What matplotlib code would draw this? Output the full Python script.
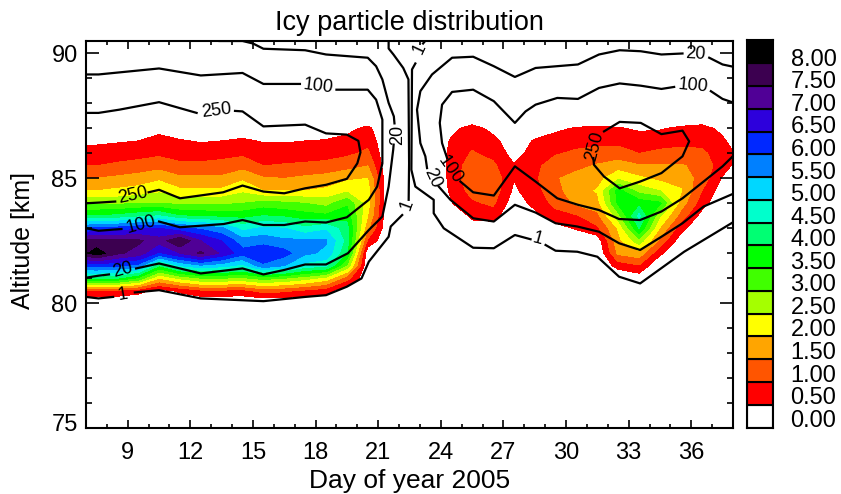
import numpy as np
from matplotlib import pyplot as plt
from matplotlib.transforms import ScaledTranslation

plt.rcParams['font.family'] = ['Liberation Sans', 'DejaVu Sans']

title = 'Icy particle distribution'
xlab = 'Day of year 2005'
ylab = 'Altitude [km]'

# filled field: one profile per day, altitude rows below
altitudes = [80, 80.5, 81, 81.5, 82, 82.5, 83, 83.5, 84, 84.5, 85, 85.5, 86, 86.5, 87, 87.5]
days = [7, 7.5, 8.5, 9.5, 10.5, 11.5, 12.5, 13.5, 14.5, 15.5, 16.5, 17.5, 18.5, 19.5, 20.5, 21.5,
        22.5, 23.5, 24.5, 25.5, 26.5, 27.5, 28.5, 29.5, 30.5, 31.5, 32.5, 33.5, 34.5, 35.5, 36.5, 37.5, 38]
profiles = [
    [0, 1.0, 4.2, 6.1, 7.9, 7.6, 6.0, 4.0, 2.9, 2.0, 1.5, 1.0, 0.7, 0.4, 0, 0],
    [0, 1.0, 4.2, 6.2, 8.3, 7.6, 6.1, 4.0, 2.9, 2.0, 1.5, 1.0, 0.7, 0.4, 0, 0],
    [0, 0.9, 4.0, 6.1, 7.6, 7.6, 6.2, 4.1, 2.9, 2.1, 1.6, 1.1, 0.75, 0.45, 0, 0],
    [0, 0.7, 3.4, 5.8, 7.3, 7.6, 6.4, 4.3, 3.0, 2.2, 1.7, 1.2, 0.8, 0.5, 0, 0],
    [0, 0.3, 2.0, 4.0, 6.4, 7.2, 6.5, 4.5, 3.0, 2.4, 1.9, 1.3, 0.9, 0.7, 0.3, 0],
    [0, 0.6, 2.6, 5.0, 7.0, 8.0, 6.1, 4.0, 2.9, 2.1, 1.6, 1.1, 0.8, 0.55, 0.1, 0],
    [0, 0.9, 3.0, 5.4, 7.6, 7.0, 5.9, 3.9, 2.9, 2.1, 1.6, 1.1, 0.8, 0.45, 0, 0],
    [0, 0.9, 3.0, 5.2, 6.9, 6.5, 5.6, 3.8, 2.9, 2.1, 1.6, 1.15, 0.85, 0.5, 0.1, 0],
    [0, 0.85, 2.9, 4.8, 6.2, 5.7, 4.8, 3.8, 3.0, 2.4, 1.9, 1.3, 0.9, 0.6, 0.1, 0],
    [0, 1.2, 3.2, 5.9, 6.4, 5.8, 5.1, 4.0, 3.2, 2.0, 1.55, 1.0, 0.75, 0.45, 0, 0],
    [0, 1.1, 3.0, 5.5, 6.2, 5.6, 5.0, 3.9, 3.1, 2.0, 1.5, 1.05, 0.75, 0.45, 0, 0],
    [0, 0.9, 2.7, 4.8, 5.6, 5.6, 4.6, 3.7, 3.0, 2.0, 1.6, 1.1, 0.75, 0.5, 0, 0],
    [0, 0.7, 2.3, 4.6, 5.4, 5.55, 4.9, 3.6, 2.8, 2.1, 1.7, 1.15, 0.8, 0.55, 0.05, 0],
    [0, 0.1, 1.2, 2.9, 4.0, 4.3, 4.2, 3.8, 3.4, 2.4, 1.9, 1.3, 0.9, 0.65, 0.35, 0],
    [0, 0, 0, 0, 0.1, 0.9, 1.6, 2.0, 2.2, 2.2, 2.0, 1.5, 1.1, 0.85, 0.62, 0],
    [0, 0, 0, 0, 0, 0, 0, 0, 0, 0, 0, 0, 0, 0, 0, 0],
    [0, 0, 0, 0, 0, 0, 0, 0, 0, 0, 0, 0, 0, 0, 0, 0],
    [0, 0, 0, 0, 0, 0, 0, 0, 0, 0, 0, 0, 0, 0, 0, 0],
    [0, 0, 0, 0, 0, 0, 0, 0.1, 0.47, 0.58, 0.63, 0.66, 0.63, 0.56, 0.35, 0],
    [0, 0, 0, 0, 0, 0, 0.3, 0.6, 0.9, 1.2, 1.4, 1.3, 1.05, 0.85, 0.7, 0],
    [0, 0, 0, 0, 0, 0, 0.25, 0.7, 1.1, 1.3, 1.35, 1.1, 0.85, 0.65, 0.35, 0],
    [0, 0, 0, 0, 0, 0, 0, 0.05, 0.2, 0.4, 0.52, 0.55, 0.3, 0.2, 0.1, 0],
    [0, 0, 0, 0, 0, 0, 0, 0.35, 0.65, 0.8, 0.9, 0.85, 0.7, 0.55, 0.2, 0],
    [0, 0, 0, 0, 0, 0, 0.3, 0.8, 1.15, 1.35, 1.45, 1.3, 0.95, 0.7, 0.4, 0],
    [0, 0, 0, 0, 0, 0.1, 0.55, 0.95, 1.6, 1.75, 1.7, 1.35, 1.1, 0.8, 0.55, 0],
    [0, 0, 0, 0, 0, 0.2, 0.9, 1.35, 1.8, 2.05, 1.8, 1.55, 1.2, 0.85, 0.6, 0],
    [0, 0, 0, 0.7, 1.6, 1.85, 2.05, 2.8, 3.6, 3.7, 2.4, 1.75, 1.2, 0.85, 0.55, 0],
    [0, 0, 0.2, 0.95, 1.8, 2.8, 4.0, 4.65, 3.8, 2.8, 2.1, 1.55, 1.0, 0.75, 0.42, 0],
    [0, 0, 0, 0, 0.6, 1.35, 1.95, 2.55, 3.6, 2.5, 1.85, 1.55, 1.1, 0.8, 0.45, 0],
    [0, 0, 0, 0, 0, 0.2, 0.7, 1.3, 1.75, 2.05, 1.8, 1.55, 1.15, 0.85, 0.6, 0],
    [0, 0, 0, 0, 0, 0, 0, 0.3, 0.75, 1.0, 1.3, 1.35, 1.1, 0.85, 0.7, 0],
    [0, 0, 0, 0, 0, 0, 0, 0, 0, 0.2, 0.45, 0.7, 0.75, 0.6, 0.35, 0],
    [0, 0, 0, 0, 0, 0, 0, 0, 0, 0, 0.1, 0.45, 0.55, 0.3, 0, 0],
]

levels = [0, 0.5, 1, 1.5, 2, 2.5, 3, 3.5, 4, 4.5, 5, 5.5, 6, 6.5, 7, 7.5, 8]
level_labels = ['%.2f' % l for l in levels]
colors = ['#ffffff', '#ff0000', '#ff5500', '#ffa500', '#ffff00', '#a5ff00', '#40ff00', '#00ff00',
          '#00ff73', '#00ffcc', '#00d7ff', '#0080ff', '#0028ff', '#2d00dc', '#500096', '#3c0050', '#000000']

# black contour lines, nan marks the gap under a label
gap = np.nan
c1_left_day = [21.5, 21.5, 21.73, 22.2, 22.45, 22.48, 22.46, gap, 22.15, 21.6, 21.5, 20.55, 20.2, 19.5, 18.5, 17.5, 15.5, 12.5, 10.5, 9.34, gap, 8.3, 7.6, 7]
c1_left_alt = [90.5, 90.2, 89.96, 89.42, 88.96, 85.6, 84.14, gap, 83.53, 83.07, 82.66, 81.66, 80.99, 80.66, 80.32, 80.25, 80.08, 80.19, 80.52, 80.43, gap, 80.25, 80.19, 80.25]
c1_right_day = [23.25, 23.15, gap, 22.78, 22.62, 22.59, 22.78, 23.66, 23.66, 24.14, 25.55, 26.54, 27.55, 28.3, gap, 29.02, 29.5, 30.54, 31.5, 32.54, 33.55, 35.66, 38.06]
c1_right_alt = [90.5, 90.4, gap, 89.6, 89.36, 85.34, 84.67, 84.14, 83.6, 83.0, 82.22, 82.2, 82.73, 82.56, gap, 82.33, 82.1, 82.06, 81.86, 81.06, 80.79, 82.06, 83.27]

c20_left_day = [13.4, 14.5, 15, 15.5, 17.5, 18.5, 20.5, 20.9, 21.2, 21.5, 21.75, 21.78, gap, 21.74, 21.72, 21.5, 21.2, 20.55, 19.55, 18.5, 17.5, 16.5, 15.5, 14.5, 12.5, 10.5, 9.4, gap, 8.1, 7.6, 7]
c20_left_alt = [90.5, 90.5, 90.4, 90.19, 90.13, 89.96, 89.83, 89.49, 88.96, 88.02, 87.48, 87.2, gap, 86.35, 86.15, 84.67, 83.47, 82.93, 82.0, 81.55, 81.55, 81.33, 81.15, 81.39, 81.19, 81.59, 81.39, gap, 81.15, 81.1, 81.02]
c20_right_day = [35.58, 34.57, 33.58, 32.57, 31.58, 30.57, 28.54, 27.55, 26.54, 25.55, 24.54, 23.58, 23.02, 22.86, 23.02, 23.26, 23.34, gap, 23.9, 24.46, 25.55, 26.54, 27.55, 28.54, 29.5, 30.54, 31.58, 32.54, 33.55, 34.57, 35.58, 36.59, 38.06]
c20_right_alt = [90.0, 89.96, 90.09, 90.13, 89.96, 89.56, 89.42, 89.06, 89.49, 89.87, 89.83, 89.16, 88.49, 87.75, 86.41, 85.88, 85.41, gap, 84.67, 84.14, 83.4, 83.27, 83.94, 83.63, 83.2, 83.07, 82.86, 82.4, 82.13, 82.66, 83.2, 83.87, 84.4]
c20_edge_day = [36.86, 37.5, 38.06]
c20_edge_alt = [89.83, 89.56, 89.46]

c100_left_day = [7, 7.6, 10.5, 12.5, 14.5, 15.5, 17.25, gap, 19, 20.5, 20.9, 21.2, 21.2, 20.95, 20.55, 19.5, 18.5, 17.5, 16.5, 15.5, 14.5, 13.6, 11.5, 10.5, gap, 8.7, 7.6, 7]
c100_left_alt = [89.16, 89.16, 89.4, 89.12, 89.22, 88.78, 88.78, gap, 88.55, 88.55, 88.15, 87.35, 85.6, 84.67, 84.14, 83.44, 83.23, 83.27, 83.13, 83.13, 83.33, 83.17, 83.04, 83.27, gap, 82.97, 82.9, 83.0]
c100_right_day = [35.18, 34.57, 33.58, 32.57, 31.58, 30.57, 29.58, 28.54, 28.06, 27.55, 26.54, 25.55, 24.54, 24.06, 23.95, 24.06, 24.3, gap, 24.94, 25.55, 26.54, 27.55, 28.54, 29.58, 30.57, 31.58, 32.54, 33.55, 34.57, 35.58, 36.59, 37.5, 38.06]
c100_right_alt = [88.66, 88.58, 88.71, 88.8, 88.62, 88.18, 88.22, 87.95, 87.68, 87.22, 88.09, 88.55, 88.46, 87.95, 87.22, 86.41, 85.81, gap, 84.87, 84.44, 84.31, 85.48, 84.87, 84.2, 83.94, 83.73, 83.37, 83.33, 83.67, 84.2, 84.87, 85.48, 85.94]
c100_edge_day = [36.94, 37.5, 38.06]
c100_edge_alt = [88.49, 88.18, 88.02]

c250_left_day = [7, 7.6, 8.6, 10.5, 12.3, gap, 14.14, 14.5, 15.5, 17.5, 18.5, 19.5, 20.05, 20.15, 20, 19.5, 18.5, 17.5, 16.5, 15.5, 14.5, 13.57, 12.46, 11.5, 10.5, 10, gap, 8.4, 7.65, 7]
c250_left_alt = [87.62, 87.62, 87.75, 88.05, 87.62, gap, 87.7, 87.68, 87.08, 87.15, 86.8, 86.75, 86.5, 86.04, 85.6, 84.98, 84.74, 84.6, 84.4, 84.47, 84.71, 84.44, 84.31, 84.2, 84.54, 84.44, gap, 84.07, 84.03, 84.0]
c250_right_day = [31.82, 32.57, 33.58, 34.57, 35.58, 35.9, 35.58, 34.57, 33.55, 32.57, 31.82, 31.34, 31.31]
c250_right_alt = [86.88, 87.26, 87.22, 86.77, 86.91, 86.48, 85.88, 85.21, 84.87, 84.6, 85.07, 85.54, 85.81]

contour_lines = [(c1_left_day, c1_left_alt), (c1_right_day, c1_right_alt),
                 (c20_left_day, c20_left_alt), (c20_right_day, c20_right_alt), (c20_edge_day, c20_edge_alt),
                 (c100_left_day, c100_left_alt), (c100_right_day, c100_right_alt), (c100_edge_day, c100_edge_alt),
                 (c250_left_day, c250_left_alt), (c250_right_day, c250_right_alt)]

label_text = ['250', '100', '20', '1', '250', '100', '20', '1', '1', '100', '20', '1', '100', '20', '250']
label_day = [13.26, 18.14, 21.93, 22.38, 9.26, 9.62, 8.78, 8.75, 22.97, 36.1, 36.22, 28.62, 24.46, 23.61, 31.39]
label_alt = [87.72, 88.69, 86.75, 83.94, 84.3, 83.13, 81.33, 80.32, 90.2, 88.71, 89.96, 82.56, 85.34, 85.0, 86.28]
label_rot = [7, -7, 90, 70, 12, 15, 15, 10, 65, -5, -3, -15, -55, -65, 75]

W, H = 841, 494
fig = plt.figure(figsize=(W / 100, H / 100), dpi=100)
ax = fig.add_axes([86 / W, 1 - 428 / H, 647 / W, 387 / H])
cax = fig.add_axes([746.5 / W, 1 - 427.5 / H, 26 / W, 387 / H])

ax.contourf(days, altitudes, np.array(profiles).T, levels=levels[1:] + [20], colors=colors[1:])
for d, a in contour_lines:
    ax.plot(d, a, color='black', linewidth=1.6)
for t, d, a, r in zip(label_text, label_day, label_alt, label_rot):
    ax.text(d, a, t, rotation=r, ha='center', va='center', fontsize=13, rotation_mode='anchor')

ax.set_xlim(7, 38)
ax.set_ylim(75, 90.5)
ax.set_xticks(np.arange(9, 37, 3))
ax.set_xticks(np.arange(8, 38, 1), minor=True)
ax.set_yticks([75, 80, 85, 90])
ax.set_yticks(np.arange(75, 91, 1), minor=True)
ax.tick_params(axis='x', which='major', direction='in', length=6, width=1.2, top=True, labelsize=17, pad=10)
ax.tick_params(axis='x', which='minor', direction='in', length=3, width=1.2, top=True)
ax.tick_params(axis='y', which='major', direction='in', length=9.5, width=1.2, right=True, labelsize=17, pad=6)
ax.tick_params(axis='y', which='minor', direction='in', length=4.5, width=1.2, right=True)
for s in ax.spines.values():
    s.set_linewidth(1.5)

# the lowest altitude label sits above its tick
low = ax.get_yticklabels()[0]
low.set_transform(low.get_transform() + ScaledTranslation(0, 6 / 100, fig.dpi_scale_trans))

ax.set_title(title, fontsize=19.5, pad=8)
ax.set_xlabel(xlab, fontsize=19, labelpad=4)
ax.set_ylabel(ylab, fontsize=18, labelpad=12, y=0.485)

cax.barh(range(len(levels)), [1] * len(levels), height=1, color=colors, edgecolor='black', linewidth=1.5)
cax.set_xlim(0, 1)
cax.set_ylim(-0.5, len(levels) - 0.5)
cax.set_xticks([])
cax.yaxis.tick_right()
cax.set_yticks(np.arange(len(levels)) * 0.991 - 0.09)
cax.set_yticklabels(level_labels)
cax.tick_params(axis='y', length=0, labelsize=17, pad=13)
for s in cax.spines.values():
    s.set_linewidth(1.5)

fig.savefig('out.png', dpi=100)
